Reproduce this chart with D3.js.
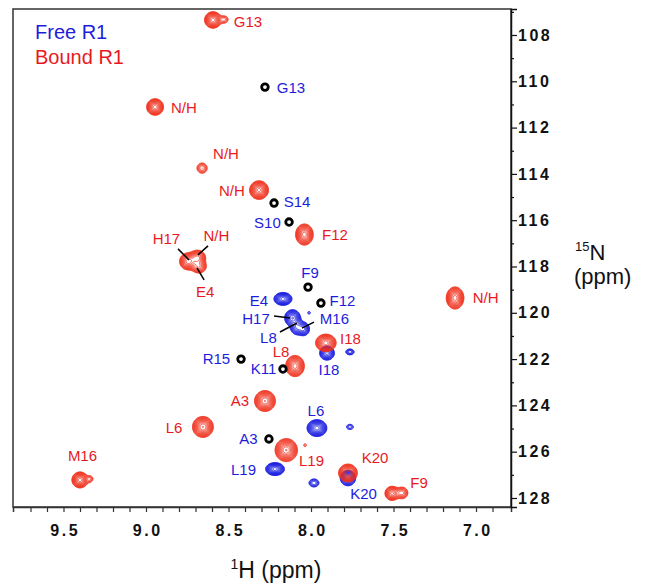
<!DOCTYPE html>
<html>
<head>
<meta charset="utf-8">
<script src="https://cdn.jsdelivr.net/npm/d3@7"></script>
<style>
  body { margin: 0; background: #fff; }
  svg { display: block; font-family: "Liberation Sans", Arial, Helvetica, sans-serif; }
  .tick text { font-weight: bold; font-size: 16px; letter-spacing: 2.5px; fill: #111; }
  .peak-label { font-size: 15px; }
</style>
</head>
<body>
<div id="main"></div>
<script>

// bound R1 peaks (red): 1H ppm, 15N ppm, height, gaussian widths (ppm)
var boundName = ["G13", "G13", "N/H", "N/H", "N/H", "F12", "H17", "N/H", "E4", "I18", "L8", "A3", "L6", "L19", "L19", "K20", "F9", "F9", "M16", "M16", "N/H"];
var boundH    = [8.594, 8.525, 8.945, 8.660, 8.315, 8.040, 8.745, 8.688, 8.680, 7.910, 8.097, 8.279, 8.655, 8.150, 8.036, 7.776, 7.509, 7.448, 9.400, 9.339, 7.127];
var boundN    = [107.35, 107.33, 111.11, 113.75, 114.70, 116.62, 117.78, 117.62, 118.00, 121.30, 122.30, 123.81, 124.93, 125.93, 125.72, 126.92, 127.80, 127.78, 127.22, 127.18, 119.36];
var boundAmp  = [12, 2.2, 12, 3, 14, 12, 10, 8, 6, 12, 12, 13, 13, 13, 1.3, 12, 8, 4, 12, 2, 12];
var boundWH   = [0.023, 0.018, 0.023, 0.021, 0.025, 0.024, 0.024, 0.024, 0.024, 0.028, 0.0255, 0.028, 0.028, 0.030, 0.012, 0.0255, 0.021, 0.021, 0.022, 0.015, 0.024];
var boundWN   = [0.16, 0.12, 0.16, 0.15, 0.175, 0.205, 0.17, 0.16, 0.15, 0.17, 0.205, 0.20, 0.20, 0.22, 0.085, 0.173, 0.15, 0.15, 0.155, 0.11, 0.215];

// free R1 peaks (blue)
var freeName = ["E4", "H17", "L8", "M16", "", "I18", "", "L6", "", "L19", "", "K20"];
var freeH    = [8.170, 8.112, 8.085, 8.045, 8.012, 7.903, 7.764, 7.964, 7.764, 8.218, 7.982, 7.776];
var freeN    = [119.40, 120.22, 120.62, 120.70, 120.00, 121.74, 121.69, 124.98, 124.93, 126.75, 127.35, 127.14];
var freeAmp  = [10, 9, 6, 6, 1.4, 8, 3, 12, 2, 12, 3, 8];
var freeWH   = [0.0255, 0.023, 0.021, 0.019, 0.010, 0.022, 0.017, 0.027, 0.018, 0.0255, 0.0205, 0.023];
var freeWN   = [0.13, 0.17, 0.17, 0.15, 0.07, 0.15, 0.085, 0.164, 0.095, 0.125, 0.117, 0.164];

// free R1 peaks drawn in black
var blackName = ["G13", "S14", "S10", "F9", "F12", "R15", "K11", "A3"];
var blackH    = [8.279, 8.224, 8.133, 8.018, 7.940, 8.424, 8.170, 8.255];
var blackN    = [110.25, 115.26, 116.08, 118.89, 119.58, 122.00, 122.43, 125.45];

// peak labels (label centre in ppm)
var redLabel  = ["G13", "N/H", "N/H", "N/H", "F12", "H17", "N/H", "E4", "I18", "L8", "A3", "L6", "L19", "M16", "K20", "F9", "N/H"];
var redLabelH = [8.382, 8.770, 8.515, 8.479, 7.855, 8.876, 8.573, 8.642, 7.761, 8.182, 8.430, 8.830, 7.997, 9.385, 7.612, 7.345, 6.942];
var redLabelN = [107.40, 111.13, 113.14, 114.74, 116.64, 116.79, 116.68, 119.08, 121.11, 121.69, 123.79, 124.95, 126.40, 126.19, 126.25, 127.35, 119.34];

var blueLabel  = ["G13", "S14", "S10", "F9", "F12", "E4", "H17", "M16", "L8", "I18", "R15", "K11", "L6", "A3", "L19", "K20"];
var blueLabelH = [8.121, 8.085, 8.264, 8.006, 7.809, 8.315, 8.333, 7.858, 8.258, 7.891, 8.573, 8.288, 7.970, 8.379, 8.409, 7.682];
var blueLabelN = [110.29, 115.19, 116.10, 118.26, 119.47, 119.47, 120.25, 120.25, 121.07, 122.45, 122.00, 122.43, 124.22, 125.45, 126.77, 127.83];

// leader lines [H1, N1, H2, N2]
var leaders = [
    [8.806, 117.24, 8.739, 117.72],
    [8.624, 117.11, 8.685, 117.50],
    [8.691, 118.06, 8.648, 118.58],
    [8.224, 120.14, 8.127, 120.22],
    [7.982, 120.40, 8.055, 120.66],
    [8.188, 120.83, 8.085, 120.44]
];

var xTicks = d3.range(69, 98).map(function(d) { return d / 10; });
var yTicks = d3.range(107, 129);

// dimensions
var svg_width = 648, svg_height = 585;
var margin = {top: 9, left: 13};
var graph_width = 498, graph_height = 498;

var red = "#f0301c", redText = "#e8191e";
var blue = "#1a1ee0", blueText = "#1d1ddb";

var svg = d3.select("#main").append("svg")
    .attr("width", svg_width)
    .attr("height", svg_height);
var g = svg.append("g")
    .attr("transform", "translate(" + margin.left + "," + margin.top + ")");

var x = d3.scaleLinear().domain([9.806, 6.788]).range([0, graph_width]);
var y = d3.scaleLinear().domain([106.877, 128.389]).range([0, graph_height]);

// frame
g.append("rect")
    .attr("width", graph_width).attr("height", graph_height)
    .attr("fill", "none").attr("stroke", "#333").attr("stroke-width", 1.5);

// axes
var xAxis = g.append("g")
    .attr("transform", "translate(0," + graph_height + ")")
    .call(d3.axisBottom(x).tickValues(xTicks).tickSize(5).tickPadding(13)
        .tickFormat(function(d) { return Math.abs(d * 2 - Math.round(d * 2)) < 1e-6 ? d3.format(".1f")(d) : ""; }));
xAxis.select(".domain").attr("stroke", "#333").attr("stroke-width", 1.5);
xAxis.selectAll(".tick line").attr("stroke", "#333").attr("stroke-width", 1.2);
xAxis.selectAll(".tick text").attr("dx", "1.25px");

var yAxis = g.append("g")
    .attr("transform", "translate(" + graph_width + ",0)")
    .call(d3.axisRight(y).tickValues(yTicks).tickSize(6).tickPadding(1)
        .tickFormat(function(d) { return d % 2 === 0 ? d : ""; }));
yAxis.select(".domain").attr("stroke", "#111").attr("stroke-width", 1.5);
yAxis.selectAll(".tick line").attr("stroke", "#111").attr("stroke-width", 1.2)
    .attr("x2", function(d) { return d % 2 === 0 ? 6 : 3; });

// contour spectra
var res = 2;
var n = graph_width * res, m = graph_height * res;
var levels = d3.range(0, 16).map(function(k) { return Math.pow(1.2, k); });

function field(hs, ns, amps, whs, wns) {
    var v = new Float32Array(n * m);
    hs.forEach(function(h, k) {
        var cx = x(h) * res, cy = y(ns[k]) * res;
        var sx = Math.abs(x(h + whs[k]) - x(h)) * res;
        var sy = Math.abs(y(ns[k] + wns[k]) - y(ns[k])) * res;
        var i0 = Math.max(0, Math.floor(cx - 4 * sx)), i1 = Math.min(n - 1, Math.ceil(cx + 4 * sx));
        var j0 = Math.max(0, Math.floor(cy - 4 * sy)), j1 = Math.min(m - 1, Math.ceil(cy + 4 * sy));
        for (var j = j0; j <= j1; j++) {
            var dy = (j + 0.5 - cy) / sy;
            for (var i = i0; i <= i1; i++) {
                var dx = (i + 0.5 - cx) / sx;
                v[j * n + i] += amps[k] * Math.exp(-0.5 * (dx * dx + dy * dy));
            }
        }
    });
    return v;
}

var path = d3.geoPath(d3.geoIdentity().scale(1 / res));
var contours = d3.contours().size([n, m]).thresholds(levels);

function drawSpectrum(values, color) {
    g.append("g")
        .selectAll("path")
        .data(contours(values))
        .enter().append("path")
        .attr("d", path)
        .attr("fill", "none")
        .attr("stroke", color)
        .attr("stroke-width", 0.85);
}

drawSpectrum(field(freeH, freeN, freeAmp, freeWH, freeWN), blue);
drawSpectrum(field(boundH, boundN, boundAmp, boundWH, boundWN), red);

// black free peaks
g.append("g").selectAll("circle")
    .data(blackH)
    .enter().append("circle")
    .attr("cx", function(d) { return x(d); })
    .attr("cy", function(d, i) { return y(blackN[i]); })
    .attr("r", 3.3)
    .attr("fill", "none")
    .attr("stroke", "#000")
    .attr("stroke-width", 2.8);

// leader lines
g.append("g").selectAll("line")
    .data(leaders)
    .enter().append("line")
    .attr("x1", function(d) { return x(d[0]); })
    .attr("y1", function(d) { return y(d[1]); })
    .attr("x2", function(d) { return x(d[2]); })
    .attr("y2", function(d) { return y(d[3]); })
    .attr("stroke", "#000")
    .attr("stroke-width", 1.5);

// labels
function drawLabels(texts, hs, ns, color) {
    g.append("g").selectAll("text")
        .data(texts)
        .enter().append("text")
        .attr("class", "peak-label")
        .attr("x", function(d, i) { return x(hs[i]); })
        .attr("y", function(d, i) { return y(ns[i]); })
        .attr("dy", "0.36em")
        .attr("text-anchor", "middle")
        .attr("fill", color)
        .text(function(d) { return d; });
}
drawLabels(redLabel, redLabelH, redLabelN, redText);
drawLabels(blueLabel, blueLabelH, blueLabelN, blueText);

// legend
svg.append("text").attr("x", 35).attr("y", 39).attr("font-size", 20).attr("fill", blueText).text("Free R1");
svg.append("text").attr("x", 35).attr("y", 64).attr("font-size", 20).attr("fill", redText).text("Bound R1");

// axis titles
var xt = svg.append("text").attr("x", 276).attr("y", 578).attr("text-anchor", "middle").attr("fill", "#111");
xt.append("tspan").attr("font-size", 14).attr("dy", -9).text("1");
xt.append("tspan").attr("font-size", 23).attr("dy", 9).text("H (ppm)");

var yt = svg.append("text").attr("x", 575).attr("y", 260).attr("fill", "#111");
yt.append("tspan").attr("font-size", 13).attr("dy", -9).text("15");
yt.append("tspan").attr("font-size", 22).attr("dy", 9).text("N");
svg.append("text").attr("x", 574).attr("y", 284).attr("font-size", 22).attr("fill", "#111").text("(ppm)");

</script>
</body>
</html>
